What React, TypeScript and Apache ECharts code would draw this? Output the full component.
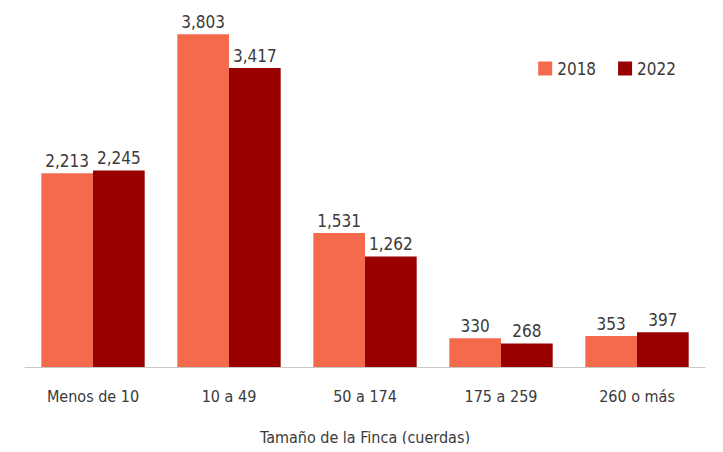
import React, { useEffect, useRef } from "react";
import * as echarts from "echarts";

const categories = ["Menos de 10", "10 a 49", "50 a 174", "175 a 259", "260 o más"];
const values2018 = [2213, 3803, 1531, 330, 353];
const values2022 = [2245, 3417, 1262, 268, 397];
const seriesNames = ["2018", "2022"];
const axisTitle = "Tamaño de la Finca (cuerdas)";

const FONT = "'Liberation Sans Narrow', 'DejaVu Sans Condensed', 'Roboto Condensed', sans-serif";

export default function App() {
  const ref = useRef<HTMLDivElement>(null);
  useEffect(() => {
    if (!ref.current) return;
    const chart = echarts.init(ref.current, null, { renderer: "svg" });
    const fmt = (p: any) => Number(p.value).toLocaleString("en-US");
    const label = {
      show: true,
      position: "top",
      distance: 4,
      color: "#3a3a3a",
      fontSize: 17,
      fontFamily: FONT,
      formatter: fmt,
    };
    chart.setOption({
      animation: false,
      backgroundColor: "#ffffff",
      textStyle: { fontFamily: FONT },
      legend: {
        data: seriesNames,
        right: 42,
        top: 55,
        itemWidth: 14,
        itemHeight: 14,
        itemGap: 22,
        icon: "rect",
        textStyle: { color: "#3a3a3a", fontSize: 17, fontFamily: FONT },
      },
      grid: { left: 25, right: 18, top: 17, bottom: 83 },
      xAxis: {
        type: "category",
        data: categories,
        axisLine: { lineStyle: { color: "#c8c8c8", width: 1 } },
        axisTick: { show: false },
        axisLabel: { color: "#3a3a3a", fontSize: 16, fontFamily: FONT, margin: 21 },
        name: axisTitle,
        nameLocation: "middle",
        nameGap: 60,
        nameTextStyle: { color: "#3a3a3a", fontSize: 16, fontFamily: FONT, lineHeight: 20 },
      },
      yAxis: {
        type: "value",
        min: 0,
        max: 4000,
        show: false,
        splitLine: { show: false },
      },
      series: [
        {
          name: seriesNames[0],
          type: "bar",
          data: values2018,
          barGap: "0%",
          barCategoryGap: "24%",
          itemStyle: { color: "#F46A4C" },
          label,
        },
        {
          name: seriesNames[1],
          type: "bar",
          data: values2022,
          barGap: "0%",
          barCategoryGap: "24%",
          itemStyle: { color: "#990000" },
          label,
        },
      ],
    });
    return () => chart.dispose();
  }, []);
  return <div ref={ref} style={{ width: 723, height: 452, margin: -8 }} />;
}
